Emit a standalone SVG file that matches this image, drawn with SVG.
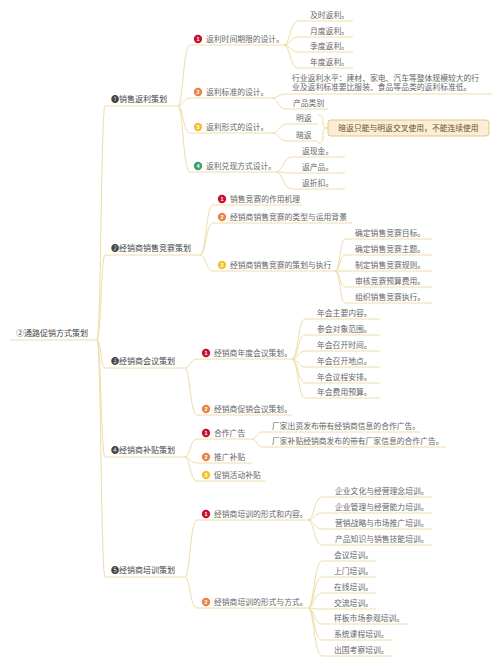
<svg xmlns="http://www.w3.org/2000/svg" width="500" height="666" viewBox="0 0 500 666">
<defs>
<style>
.ln{fill:none;stroke:#eedda8;stroke-width:1}
.ul{stroke:#eedda8;stroke-width:1}
.t{font-family:"Noto Sans CJK SC","Noto Sans CJK JP","DejaVu Sans",sans-serif;font-size:7.8px;fill:#666}
.t1{font-family:"Noto Sans CJK SC","DejaVu Sans",sans-serif;font-size:8px;fill:#444}
.n{font-family:"Liberation Sans",sans-serif;font-size:5.5px;font-weight:bold;fill:#fff;text-anchor:middle}
.red{fill:#c8102e}.org{fill:#e8834a}.yel{fill:#f2c02e}.grn{fill:#3aa36c}
.cb{fill:#fbeed5;stroke:#e3b574;stroke-width:0.8}
.ct{font-family:"Noto Sans CJK SC",sans-serif;font-size:7.8px;fill:#6a5030;text-anchor:middle}
</style>
</defs>
<rect width="500" height="666" fill="#fff"/>

<g id="connectors">
<path class="ln" d="M97,340 C101,340 101,106 105,106"/>
<path class="ln" d="M97,340 C101,340 101,255 105,255"/>
<path class="ln" d="M97,340 C101,340 101,368 105,368"/>
<path class="ln" d="M97,340 C101,340 101,457 105,457"/>
<path class="ln" d="M97,340 C101,340 101,577 105,577"/>

<path class="ln" d="M178,106 C183,106 183,45 190,45"/>
<path class="ln" d="M178,106 C183,106 183,98 190,98"/>
<path class="ln" d="M178,106 C183,106 183,133 190,133"/>
<path class="ln" d="M178,106 C183,106 183,172 190,172"/>

<path class="ln" d="M284,45 C290,45 290,21 298,21"/>
<path class="ln" d="M284,45 C290,45 290,37 298,37"/>
<path class="ln" d="M284,45 C290,45 290,52 298,52"/>
<path class="ln" d="M284,45 C290,45 290,68 298,68"/>

<path class="ln" d="M272,98 C278,98 278,94 286,94"/>
<path class="ln" d="M272,98 C278,98 278,109 286,109"/>

<path class="ln" d="M272,133 C279,133 279,124 287,124"/>
<path class="ln" d="M272,133 C279,133 279,141 287,141"/>
<path class="ln" d="M318,115 Q323,115 323,120 L323,124 Q323,128 328,128 Q323,128 323,132 L323,138 Q323,143 318,143"/>

<path class="ln" d="M276,172 C283,172 283,157 292,157"/>
<path class="ln" d="M276,172 C283,172 283,173 292,173"/>
<path class="ln" d="M276,172 C283,172 283,189 292,189"/>

<path class="ln" d="M200,255 C206,255 206,205 213,205"/>
<path class="ln" d="M200,255 C206,255 206,223 213,223"/>
<path class="ln" d="M200,255 C206,255 206,271 213,271"/>

<path class="ln" d="M335,271 C340,271 340,239 345,239"/>
<path class="ln" d="M335,271 C340,271 340,255 345,255"/>
<path class="ln" d="M335,271 L345,271"/>
<path class="ln" d="M335,271 C340,271 340,287 345,287"/>
<path class="ln" d="M335,271 C340,271 340,303 345,303"/>

<path class="ln" d="M185,368 C190,368 190,359 197,359"/>
<path class="ln" d="M185,368 C190,368 190,415 197,415"/>

<path class="ln" d="M292,359 C298,359 298,319 305,319"/>
<path class="ln" d="M292,359 C298,359 298,335 305,335"/>
<path class="ln" d="M292,359 C298,359 298,351 305,351"/>
<path class="ln" d="M292,359 C298,359 298,367 305,367"/>
<path class="ln" d="M292,359 C298,359 298,383 305,383"/>
<path class="ln" d="M292,359 C298,359 298,398 305,398"/>

<path class="ln" d="M185,457 C190,457 190,439 197,439"/>
<path class="ln" d="M185,457 C190,457 190,463 197,463"/>
<path class="ln" d="M185,457 C190,457 190,481 197,481"/>

<path class="ln" d="M252,439 C257,439 257,432 262,432"/>
<path class="ln" d="M252,439 C257,439 257,447 262,447"/>

<path class="ln" d="M185,577 C190,577 190,520 197,520"/>
<path class="ln" d="M185,577 C190,577 190,608 197,608"/>

<path class="ln" d="M308,520 C314,520 314,497 322,497"/>
<path class="ln" d="M308,520 C314,520 314,513 322,513"/>
<path class="ln" d="M308,520 C314,520 314,529 322,529"/>
<path class="ln" d="M308,520 C314,520 314,545 322,545"/>

<path class="ln" d="M308,608 C314,608 314,561 322,561"/>
<path class="ln" d="M308,608 C314,608 314,577 322,577"/>
<path class="ln" d="M308,608 C314,608 314,593 322,593"/>
<path class="ln" d="M308,608 C314,608 314,609 322,609"/>
<path class="ln" d="M308,608 C314,608 314,624 322,624"/>
<path class="ln" d="M308,608 C314,608 314,640 322,640"/>
<path class="ln" d="M308,608 C314,608 314,656 322,656"/>
</g>

<g id="root"><line class="ul" x1="10" y1="340" x2="97" y2="340"/><text class="t1" x="16" y="336">②通路促销方式策划</text></g>

<g id="n1"><line class="ul" x1="105" y1="106" x2="178" y2="106"/><text class="t1" x="111" y="102">❶销售返利策划</text></g>
<g id="n1-1"><line class="ul" x1="190" y1="45" x2="284" y2="45"/><circle class="red" cx="198" cy="39" r="4.2"/><text class="n" x="198" y="41">1</text><text class="t" x="206" y="41.5">返利时间期限的设计。</text></g>
<g id="n1-1-1"><line class="ul" x1="298" y1="21" x2="353" y2="21"/><text class="t" x="310" y="17.5">及时返利。</text></g>
<g id="n1-1-2"><line class="ul" x1="298" y1="37" x2="353" y2="37"/><text class="t" x="310" y="33.5">月度返利。</text></g>
<g id="n1-1-3"><line class="ul" x1="298" y1="52" x2="353" y2="52"/><text class="t" x="310" y="48.5">季度返利。</text></g>
<g id="n1-1-4"><line class="ul" x1="298" y1="68" x2="353" y2="68"/><text class="t" x="310" y="64.5">年度返利。</text></g>
<g id="n1-2"><line class="ul" x1="190" y1="98" x2="272" y2="98"/><circle class="org" cx="198" cy="92" r="4.2"/><text class="n" x="198" y="94">2</text><text class="t" x="206" y="94.5">返利标准的设计。</text></g>
<g id="n1-2-1"><line class="ul" x1="286" y1="94" x2="492" y2="94"/><text class="t" x="292" y="80.5">行业返利水平：建材、家电、汽车等整体规模较大的行</text><text class="t" x="292" y="90">业及返利标准要比服装、食品等品类的返利标准低。</text></g>
<g id="n1-2-2"><line class="ul" x1="286" y1="109" x2="328" y2="109"/><text class="t" x="293" y="105.5">产品类别</text></g>
<g id="n1-3"><line class="ul" x1="190" y1="133" x2="272" y2="133"/><circle class="yel" cx="198" cy="127" r="4.2"/><text class="n" x="198" y="129">3</text><text class="t" x="206" y="129.5">返利形式的设计。</text></g>
<g id="n1-3-1"><line class="ul" x1="287" y1="124" x2="318" y2="124"/><text class="t" x="296" y="120.5">明返</text></g>
<g id="n1-3-2"><line class="ul" x1="287" y1="141" x2="318" y2="141"/><text class="t" x="296" y="137.5">暗返</text></g>
<g id="n1-3-s"><rect class="cb" x="328" y="120" width="161" height="16" rx="3"/><text class="ct" x="408.5" y="131">暗返只能与明返交叉使用，不能连续使用</text></g>
<g id="n1-4"><line class="ul" x1="190" y1="172" x2="276" y2="172"/><circle class="grn" cx="198" cy="166" r="4.2"/><text class="n" x="198" y="168">4</text><text class="t" x="206" y="168.5">返利兑现方式设计。</text></g>
<g id="n1-4-1"><line class="ul" x1="292" y1="157" x2="345" y2="157"/><text class="t" x="302" y="153.5">返现金。</text></g>
<g id="n1-4-2"><line class="ul" x1="292" y1="173" x2="345" y2="173"/><text class="t" x="302" y="169.5">返产品。</text></g>
<g id="n1-4-3"><line class="ul" x1="292" y1="189" x2="345" y2="189"/><text class="t" x="302" y="185.5">返折扣。</text></g>

<g id="n2"><line class="ul" x1="105" y1="255" x2="200" y2="255"/><text class="t1" x="111" y="251">❷经销商销售竞赛策划</text></g>
<g id="n2-1"><line class="ul" x1="213" y1="205" x2="302" y2="205"/><circle class="red" cx="222" cy="199" r="4.2"/><text class="n" x="222" y="201">1</text><text class="t" x="230" y="201.5">销售竞赛的作用机理</text></g>
<g id="n2-2"><line class="ul" x1="213" y1="223" x2="352" y2="223"/><circle class="org" cx="222" cy="217" r="4.2"/><text class="n" x="222" y="219">2</text><text class="t" x="230" y="219.5">经销商销售竞赛的类型与运用背景</text></g>
<g id="n2-3"><line class="ul" x1="213" y1="271" x2="335" y2="271"/><circle class="yel" cx="222" cy="265" r="4.2"/><text class="n" x="222" y="267">3</text><text class="t" x="230" y="267.5">经销商销售竞赛的策划与执行</text></g>
<g id="n2-3-1"><line class="ul" x1="345" y1="239" x2="432" y2="239"/><text class="t" x="355" y="235.5">确定销售竞赛目标。</text></g>
<g id="n2-3-2"><line class="ul" x1="345" y1="255" x2="432" y2="255"/><text class="t" x="355" y="251.5">确定销售竞赛主题。</text></g>
<g id="n2-3-3"><line class="ul" x1="345" y1="271" x2="432" y2="271"/><text class="t" x="355" y="267.5">制定销售竞赛规则。</text></g>
<g id="n2-3-4"><line class="ul" x1="345" y1="287" x2="432" y2="287"/><text class="t" x="355" y="283.5">审核竞赛预算费用。</text></g>
<g id="n2-3-5"><line class="ul" x1="345" y1="303" x2="432" y2="303"/><text class="t" x="355" y="299.5">组织销售竞赛执行。</text></g>

<g id="n3"><line class="ul" x1="105" y1="368" x2="185" y2="368"/><text class="t1" x="111" y="364">❸经销商会议策划</text></g>
<g id="n3-1"><line class="ul" x1="197" y1="359" x2="292" y2="359"/><circle class="red" cx="206" cy="353" r="4.2"/><text class="n" x="206" y="355">1</text><text class="t" x="214" y="355.5">经销商年度会议策划。</text></g>
<g id="n3-1-1"><line class="ul" x1="305" y1="319" x2="380" y2="319"/><text class="t" x="317" y="315.5">年会主要内容。</text></g>
<g id="n3-1-2"><line class="ul" x1="305" y1="335" x2="380" y2="335"/><text class="t" x="317" y="331.5">参会对象范围。</text></g>
<g id="n3-1-3"><line class="ul" x1="305" y1="351" x2="380" y2="351"/><text class="t" x="317" y="347.5">年会召开时间。</text></g>
<g id="n3-1-4"><line class="ul" x1="305" y1="367" x2="380" y2="367"/><text class="t" x="317" y="363.5">年会召开地点。</text></g>
<g id="n3-1-5"><line class="ul" x1="305" y1="383" x2="380" y2="383"/><text class="t" x="317" y="379.5">年会议程安排。</text></g>
<g id="n3-1-6"><line class="ul" x1="305" y1="398" x2="380" y2="398"/><text class="t" x="317" y="394.5">年会费用预算。</text></g>
<g id="n3-2"><line class="ul" x1="197" y1="415" x2="292" y2="415"/><circle class="org" cx="206" cy="409" r="4.2"/><text class="n" x="206" y="411">2</text><text class="t" x="214" y="411.5">经销商促销会议策划。</text></g>

<g id="n4"><line class="ul" x1="105" y1="457" x2="185" y2="457"/><text class="t1" x="111" y="453">❹经销商补贴策划</text></g>
<g id="n4-1"><line class="ul" x1="197" y1="439" x2="252" y2="439"/><circle class="red" cx="206" cy="433" r="4.2"/><text class="n" x="206" y="435">1</text><text class="t" x="214" y="435.5">合作广告</text></g>
<g id="n4-1-1"><line class="ul" x1="262" y1="432" x2="420" y2="432"/><text class="t" x="272" y="428.5">厂家出资发布带有经销商信息的合作广告。</text></g>
<g id="n4-1-2"><line class="ul" x1="262" y1="447" x2="446" y2="447"/><text class="t" x="272" y="443.5">厂家补贴经销商发布的带有厂家信息的合作广告。</text></g>
<g id="n4-2"><line class="ul" x1="197" y1="463" x2="252" y2="463"/><circle class="org" cx="206" cy="457" r="4.2"/><text class="n" x="206" y="459">2</text><text class="t" x="214" y="459.5">推广补贴</text></g>
<g id="n4-3"><line class="ul" x1="197" y1="481" x2="265" y2="481"/><circle class="yel" cx="206" cy="475" r="4.2"/><text class="n" x="206" y="477">3</text><text class="t" x="214" y="477.5">促销活动补贴</text></g>

<g id="n5"><line class="ul" x1="105" y1="577" x2="185" y2="577"/><text class="t1" x="111" y="573">❺经销商培训策划</text></g>
<g id="n5-1"><line class="ul" x1="197" y1="520" x2="308" y2="520"/><circle class="red" cx="206" cy="514" r="4.2"/><text class="n" x="206" y="516">1</text><text class="t" x="214" y="516.5">经销商培训的形式和内容。</text></g>
<g id="n5-1-1"><line class="ul" x1="322" y1="497" x2="432" y2="497"/><text class="t" x="335" y="493.5">企业文化与经营理念培训。</text></g>
<g id="n5-1-2"><line class="ul" x1="322" y1="513" x2="432" y2="513"/><text class="t" x="335" y="509.5">企业管理与经营能力培训。</text></g>
<g id="n5-1-3"><line class="ul" x1="322" y1="529" x2="432" y2="529"/><text class="t" x="335" y="525.5">营销战略与市场推广培训。</text></g>
<g id="n5-1-4"><line class="ul" x1="322" y1="545" x2="432" y2="545"/><text class="t" x="335" y="541.5">产品知识与销售技能培训。</text></g>
<g id="n5-2"><line class="ul" x1="197" y1="608" x2="308" y2="608"/><circle class="org" cx="206" cy="602" r="4.2"/><text class="n" x="206" y="604">2</text><text class="t" x="214" y="604.5">经销商培训的形式与方式。</text></g>
<g id="n5-2-1"><line class="ul" x1="322" y1="561" x2="376" y2="561"/><text class="t" x="334" y="557.5">会议培训。</text></g>
<g id="n5-2-2"><line class="ul" x1="322" y1="577" x2="376" y2="577"/><text class="t" x="334" y="573.5">上门培训。</text></g>
<g id="n5-2-3"><line class="ul" x1="322" y1="593" x2="376" y2="593"/><text class="t" x="334" y="589.5">在线培训。</text></g>
<g id="n5-2-4"><line class="ul" x1="322" y1="609" x2="376" y2="609"/><text class="t" x="334" y="605.5">交流培训。</text></g>
<g id="n5-2-5"><line class="ul" x1="322" y1="624" x2="408" y2="624"/><text class="t" x="334" y="620.5">样板市场参观培训。</text></g>
<g id="n5-2-6"><line class="ul" x1="322" y1="640" x2="392" y2="640"/><text class="t" x="334" y="636.5">系统课程培训。</text></g>
<g id="n5-2-7"><line class="ul" x1="322" y1="656" x2="392" y2="656"/><text class="t" x="334" y="652.5">出国考察培训。</text></g>
</svg>
